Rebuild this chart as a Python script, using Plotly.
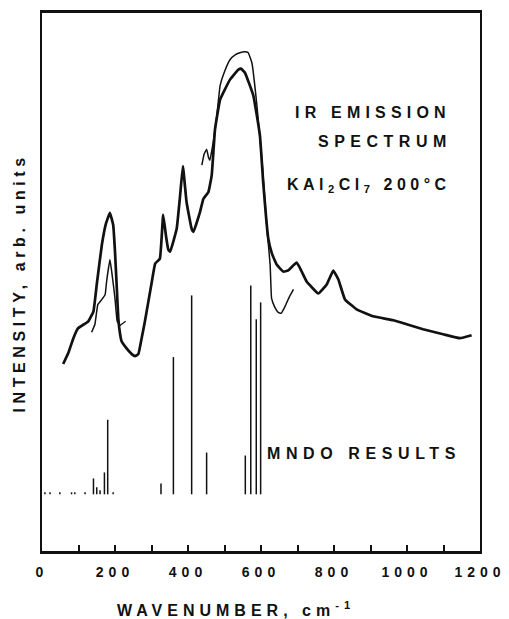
import plotly.graph_objects as go

# ---- IR emission spectrum (thick trace) ----
ir_main_wn = [58, 72, 86, 99, 127, 141, 150, 164, 175, 186, 195, 200, 205, 209, 214, 218, 227,
              246, 255, 264, 273, 282, 301, 310, 323, 332, 340, 346, 351, 369, 378, 386, 396,
              410, 415, 433, 442, 456, 465, 474, 488, 515, 538, 545, 556, 579, 597, 606, 620,
              630, 643, 661, 674, 698, 725, 757, 780, 798, 812, 830, 862, 907, 962, 999, 1044,
              1099, 1145, 1177]
ir_main_int = [188, 199, 214, 224, 231, 241, 268, 308, 329, 340, 328, 301, 264, 234, 218, 211, 206,
               198, 196, 198, 214, 231, 271, 289, 294, 338, 316, 303, 301, 324, 356, 387, 351,
               324, 321, 341, 354, 361, 378, 424, 454, 474, 484, 485, 481, 458, 418, 371, 314,
               299, 288, 281, 282, 290, 271, 259, 268, 282, 273, 253, 243, 236, 232, 228, 223,
               218, 214, 217]

# ---- second (thin) trace, two segments ----
ir_low_wn = [136, 145, 153, 164, 173, 177, 186, 191, 200, 206, 214, 229]
ir_low_int = [220, 228, 248, 253, 258, 271, 293, 281, 254, 231, 227, 231]

ir_high_wn = [438, 444, 451, 456, 460, 469, 479, 488, 501, 515, 529, 542, 556, 565, 575, 588,
              603, 616, 625, 629, 638, 647, 655, 666, 677, 689]
ir_high_int = [388, 399, 404, 396, 393, 411, 438, 468, 483, 494, 499, 501, 502, 501, 491, 451,
               391, 326, 288, 254, 245, 240, 239, 246, 255, 263]

# ---- MNDO calculated stick spectrum ----
mndo_base = 57
mndo_wn = [8, 22, 49, 81, 90, 118, 141, 150, 159, 171, 180, 195, 326, 360, 410, 451, 557, 572, 587, 599]
mndo_height = [2, 2, 2, 2, 2, 2, 16, 7, 4, 22, 75, 2, 11, 138, 200, 42, 39, 210, 176, 193]

x_label_step = 200
x_minor_step = 100

INK = "#111111"
FONT = "Liberation Sans, Arial, Helvetica, sans-serif"


def spaced(txt, ls):
    return f'<span style="letter-spacing:{ls}px">{txt}</span>'


stick_x, stick_y = [], []
for w, h in zip(mndo_wn, mndo_height):
    stick_x += [w, w, None]
    stick_y += [mndo_base, mndo_base + h, None]

fig = go.Figure()
fig.add_trace(go.Scatter(x=ir_main_wn, y=ir_main_int, mode="lines",
                         line=dict(color=INK, width=2.7, shape="spline", smoothing=0.3),
                         showlegend=False, hoverinfo="skip"))
fig.add_trace(go.Scatter(x=ir_low_wn, y=ir_low_int, mode="lines",
                         line=dict(color=INK, width=1.5, shape="spline", smoothing=0.3),
                         showlegend=False, hoverinfo="skip"))
fig.add_trace(go.Scatter(x=ir_high_wn, y=ir_high_int, mode="lines",
                         line=dict(color=INK, width=1.5, shape="spline", smoothing=0.3),
                         showlegend=False, hoverinfo="skip"))
fig.add_trace(go.Scatter(x=stick_x, y=stick_y, mode="lines",
                         line=dict(color=INK, width=1.5),
                         showlegend=False, hoverinfo="skip"))

tick_vals = list(range(0, 1201, x_label_step))
tick_text = [spaced(str(v), 5) for v in tick_vals]

# page has an 8px body margin, so the figure is sized/offset to compensate
fig.update_layout(
    width=501, height=611,
    margin=dict(l=34, r=29, t=2, b=68),
    paper_bgcolor="white", plot_bgcolor="white",
    font=dict(family=FONT, color=INK),
    showlegend=False,
    xaxis=dict(range=[0, 1200], showgrid=False, zeroline=False,
               showline=True, linecolor=INK, linewidth=2.5, mirror=True,
               ticks="inside", ticklen=6, tickwidth=2, tickcolor=INK,
               tickvals=tick_vals, ticktext=tick_text,
               minor=dict(dtick=x_minor_step, ticks="inside", ticklen=6,
                          tickwidth=2, tickcolor=INK, showgrid=False),
               tickfont=dict(size=14, family=FONT, color=INK, weight="bold"),
               ticklabelstandoff=6),
    yaxis=dict(range=[0, 541], showgrid=False, zeroline=False,
               showline=True, linecolor=INK, linewidth=2.2, mirror=True,
               ticks="", showticklabels=False),
)

ann_font = dict(family=FONT, size=16, color=INK, weight="bold")
anns = [
    ("IR EMISSION", 0.756, 0.815, 5.2),
    ("SPECTRUM", 0.783, 0.762, 5.5),
    ("KAl<sub>2</sub>Cl<sub>7</sub> 200°C", 0.747, 0.680, 4.5),
    ("MNDO RESULTS", 0.735, 0.181, 5.6),
]
for txt, xp, yp, ls in anns:
    fig.add_annotation(text=spaced(txt, ls), x=xp, y=yp, xref="paper", yref="paper",
                       xanchor="center", yanchor="middle", showarrow=False, font=ann_font)

fig.add_annotation(text=spaced("WAVENUMBER, cm<sup>-1</sup>", 5), x=(236 - 42) / 438,
                   y=(551 - 609) / 541, xref="paper", yref="paper",
                   xanchor="center", yanchor="middle", showarrow=False,
                   font=dict(family=FONT, size=16, color=INK, weight="bold"))
fig.add_annotation(text=spaced("INTENSITY, arb. units", 4.6), x=(19 - 42) / 438,
                   y=(551 - 282) / 541, xref="paper", yref="paper", textangle=-90,
                   xanchor="center", yanchor="middle", showarrow=False,
                   font=dict(family=FONT, size=16, color=INK, weight="bold"))

fig.write_html("out.html")
